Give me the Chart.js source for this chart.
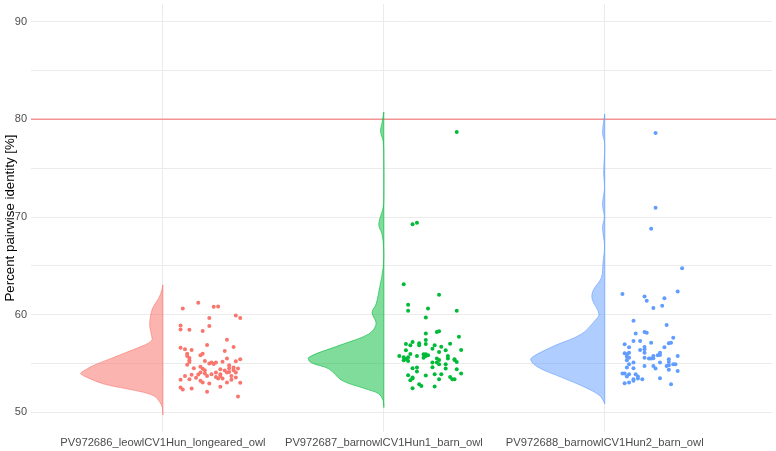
<!DOCTYPE html>
<html>
<head>
<meta charset="utf-8">
<script src="https://cdn.jsdelivr.net/npm/chart.js@4.4.1/dist/chart.umd.min.js"></script>
<style>
  html, body { margin: 0; padding: 0; background: #fff; }
  #wrap { width: 776px; height: 451px; }
</style>
</head>
<body>
<div id="wrap"><canvas id="myChart" width="776" height="451"></canvas></div>
<script>
const categories = [
  "PV972686_leowlCV1Hun_longeared_owl",
  "PV972687_barnowlCV1Hun1_barn_owl",
  "PV972688_barnowlCV1Hun2_barn_owl"
];
const yTicks = [50, 60, 70, 80, 90];
const threshold = 80;

// jittered points: offset right of the category centre, and value
const jitter1 = [0.09,0.16,0.23,0.25,0.33,0.35,0.21,0.08,0.08,0.12,0.18,0.21,0.29,0.20,0.32,0.08,0.10,0.13,0.28,0.18,
  0.17,0.11,0.12,0.29,0.35,0.12,0.33,0.27,0.24,0.22,0.21,0.11,0.30,0.14,0.18,0.30,0.34,0.19,0.28,0.32,
  0.17,0.19,0.24,0.26,0.29,0.33,0.13,0.10,0.20,0.26,0.31,0.24,0.33,0.15,0.27,0.12,0.08,0.31,0.17,0.18,
  0.21,0.35,0.29,0.08,0.09,0.13,0.26,0.20,0.34,0.26,0.30,0.25,0.17,0.19,0.22,0.16,0.32,0.11,0.12,0.23];
const values1 = [60.64,61.22,60.82,60.85,59.93,59.66,59.66,58.90,58.50,58.47,58.33,58.84,57.45,56.90,56.70,56.63,56.46,56.40,56.30,56.02,
  55.85,55.78,55.58,55.51,55.44,55.34,55.24,55.20,55.10,55.10,55.00,54.87,54.83,54.52,54.46,54.52,54.49,54.32,54.29,54.32,
  54.08,53.98,54.08,53.91,54.08,54.08,53.85,53.74,53.74,53.74,53.74,53.64,53.57,53.54,53.47,53.40,53.34,53.34,53.24,53.06,
  52.96,53.03,53.06,52.55,52.35,52.45,52.62,52.11,51.63,54.42,54.15,53.47,54.69,55.27,53.91,53.88,54.59,56.02,55.17,54.97];

const jitter2 = [0.19,0.19,0.24,0.25,0.34,0.19,0.16,0.19,0.10,0.12,0.16,0.13,0.30,0.23,0.26,0.22,0.10,0.28,0.35,0.25,
  0.19,0.20,0.19,0.07,0.15,0.09,0.11,0.10,0.09,0.11,0.18,0.24,0.25,0.29,0.32,0.33,0.32,0.28,0.25,0.22,
  0.13,0.15,0.28,0.24,0.15,0.33,0.11,0.19,0.23,0.26,0.35,0.13,0.13,0.25,0.30,0.31,0.32,0.12,0.16,0.17,
  0.13,0.23,0.22,0.18,0.29,0.12,0.33,0.13,0.15,0.09,0.25,0.11,0.11,0.20,0.33];
const values2 = [59.73,58.09,58.23,58.30,57.76,57.42,57.07,57.01,57.01,56.87,56.87,57.21,57.04,56.87,56.73,56.53,56.36,56.36,56.40,56.19,
  55.95,55.85,55.78,55.78,55.78,55.64,55.64,55.44,55.34,55.27,55.61,55.51,55.38,55.51,55.44,55.17,55.38,54.93,54.93,54.63,
  54.52,54.59,54.49,55.10,54.18,54.42,53.81,53.78,53.91,53.91,53.98,53.47,53.57,53.40,53.64,53.40,53.40,53.30,52.89,52.72,
  52.48,52.65,55.10,55.95,55.78,55.98,78.70,69.25,69.42,63.13,62.04,61.02,60.41,60.64,60.41];

const jitter3 = [0.13,0.28,0.14,0.18,0.19,0.31,0.13,0.16,0.21,0.30,0.29,0.09,0.11,0.18,0.16,0.18,0.27,0.09,0.10,0.11,
  0.18,0.25,0.22,0.24,0.25,0.33,0.10,0.11,0.18,0.20,0.21,0.22,0.29,0.10,0.29,0.13,0.25,0.11,0.31,0.32,
  0.18,0.22,0.28,0.29,0.10,0.13,0.23,0.29,0.33,0.08,0.09,0.11,0.14,0.10,0.15,0.13,0.15,0.17,0.13,0.25,
  0.09,0.11,0.30,0.23,0.23,0.21,0.35,0.08,0.33,0.18,0.19,0.27,0.26,0.22];
const values3 = [59.39,58.95,58.09,58.23,58.16,57.65,57.32,57.32,57.14,57.14,57.07,56.97,56.67,56.70,56.40,56.46,56.67,56.05,55.95,56.12,
  56.12,56.12,55.78,55.85,55.88,55.78,55.71,55.61,55.61,55.51,55.51,55.54,55.44,55.34,55.17,55.10,55.10,54.93,54.93,54.93,
  54.76,54.76,54.76,54.83,54.59,54.52,54.49,54.36,54.25,53.98,53.98,53.91,53.91,53.67,53.67,53.40,53.47,53.40,53.24,53.50,
  53.00,53.06,52.89,78.60,70.95,68.81,64.76,62.11,62.38,61.87,61.43,61.70,60.92,60.68];

// half-violin outline: value levels and half width (category units)
const violinY1 = [63.06,62.45,61.77,61.09,60.58,60.07,59.39,58.71,57.86,57.35,56.84,56.16,55.48,54.80,54.11,53.95,53.60,52.93,52.42,52.07,51.63,51.05,50.54,49.80];
const violinW1 = [0,0.006,0.017,0.036,0.048,0.054,0.059,0.059,0.051,0.051,0.089,0.164,0.240,0.315,0.368,0.372,0.345,0.270,0.164,0.089,0.036,0.014,0.003,0];

const violinY2 = [80.75,79.63,78.78,77.76,76.0,72.0,70.95,69.25,68.23,66.87,64.83,62.79,61.09,60.24,59.05,58.03,56.84,55.65,55.14,54.46,53.27,52.42,51.91,51.22,50.54];
const violinW2 = [0,0.008,0.015,0.003,0,0,0.003,0.023,0.008,0.001,0.003,0.019,0.035,0.053,0.035,0.068,0.204,0.339,0.332,0.249,0.189,0.083,0.023,0.003,0];

const violinY3 = [80.54,78.60,77.5,74.5,73.0,71.29,70.0,68.91,67.0,65.34,63.81,62.45,61.60,60.07,59.39,58.03,56.84,55.82,55.38,54.63,53.60,52.58,51.73,51.05,50.89];
const violinW3 = [0,0.010,0,0.005,0.001,0.010,0.002,0.010,0.001,0.008,0.015,0.053,0.057,0.026,0.045,0.105,0.226,0.317,0.335,0.302,0.196,0.090,0.023,0.003,0];

const colours = ["#F8766D", "#00BA38", "#619CFF"];
const fills = ["rgba(248,118,109,0.55)", "rgba(0,186,56,0.5)", "rgba(97,156,255,0.5)"];

const violins = [[violinY1, violinW1], [violinY2, violinW2], [violinY3, violinW3]];
const points = [[jitter1, values1], [jitter2, values2], [jitter3, values3]];

const datasets = [];
violins.forEach(([ys, ws], i) => {
  const c = i + 1;
  const data = ys.map((y, k) => ({ x: c - ws[k], y: y }));
  data.push({ x: c, y: ys[0] });
  datasets.push({
    data: data,
    showLine: true,
    fill: "shape",
    tension: 0.35,
    backgroundColor: fills[i],
    borderColor: colours[i],
    borderWidth: 0.6,
    pointRadius: 0
  });
});
points.forEach(([js, vs], i) => {
  datasets.push({
    data: vs.map((v, k) => ({ x: i + 1 + js[k], y: v })),
    backgroundColor: colours[i],
    borderWidth: 0,
    pointRadius: 2
  });
});
datasets.push({
  data: [{ x: 0.403, y: threshold }, { x: 3.9, y: threshold }],
  showLine: true,
  borderColor: "#F39494",
  borderWidth: 1.5,
  pointRadius: 0,
  fill: false,
  clip: { left: 0, top: 0, bottom: 0, right: 10 }
});

const font = { family: "'Liberation Sans', Arial, sans-serif" };
const noPad = (scale) => {
  scale.paddingTop = 0;
  scale.paddingBottom = 0;
  scale.paddingLeft = 0;
  scale.paddingRight = 0;
};

new Chart(document.getElementById("myChart"), {
  type: "scatter",
  data: { datasets },
  options: {
    responsive: false,
    animation: false,
    layout: { padding: 0 },
    plugins: { legend: { display: false }, tooltip: { enabled: false } },
    scales: {
      x: {
        type: "linear",
        min: 0.403,
        max: 3.757,
        afterBuildTicks: (scale) => {
          scale.ticks = categories.map((_, i) => ({ value: i + 1 }));
        },
        afterFit: (scale) => { scale.height = 19; noPad(scale); },
        ticks: {
          autoSkip: false,
          maxRotation: 0,
          padding: 4,
          color: "#4d4d4d",
          font: { ...font, size: 11.2 },
          callback: (v) => categories[v - 1]
        },
        grid: { color: "#ebebeb", drawTicks: false },
        border: { display: false }
      },
      y: {
        min: 48,
        max: 91.8,
        afterFit: (scale) => { scale.width = 31; noPad(scale); },
        ticks: {
          stepSize: 5,
          includeBounds: false,
          padding: 4,
          color: "#4d4d4d",
          font: { ...font, size: 11 },
          callback: (v) => (yTicks.includes(v) ? v : "")
        },
        grid: { color: "#ebebeb", drawTicks: false },
        border: { display: false },
        title: {
          display: true,
          text: "Percent pairwise identity [%]",
          color: "#000",
          padding: { top: 2, bottom: 0 },
          font: { ...font, size: 13.3 }
        }
      }
    }
  }
});
</script>
</body>
</html>
